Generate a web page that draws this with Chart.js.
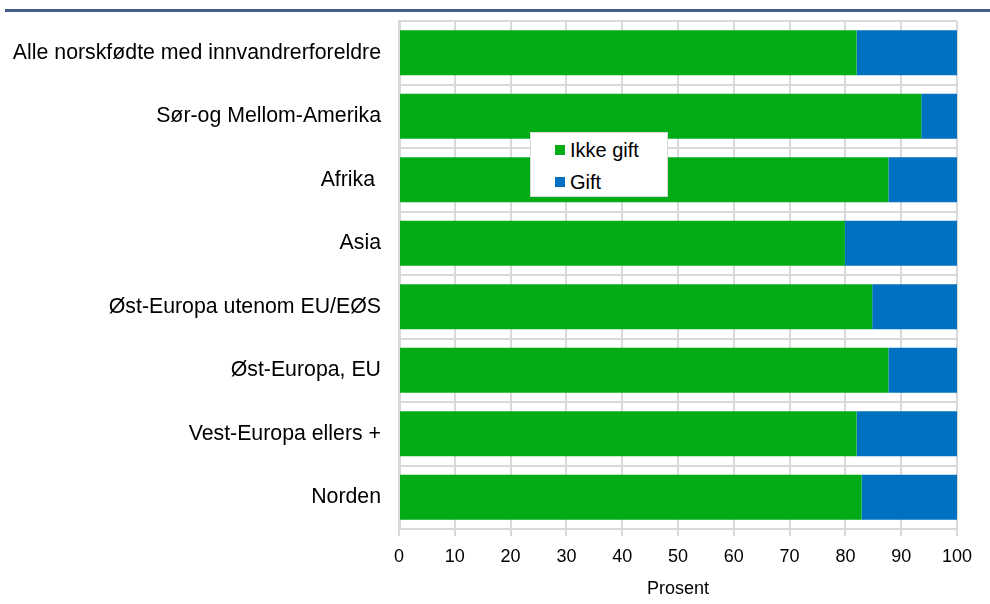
<!DOCTYPE html>
<html lang="no">
<head>
<meta charset="UTF-8">
<title>Gift / ikke gift</title>
<script src="https://cdn.jsdelivr.net/npm/chart.js"></script>
<style>
    body { margin: 0; background: #fff; font-family: 'Liberation Sans', Arial, sans-serif; }
    #wrap { position: relative; width: 990px; height: 604px; }
    #topline { position: absolute; left: 5px; top: 9px; width: 985px; height: 3px; background: #3f5f8a; }
    canvas { position: absolute; left: 0; top: 0; }
    #legend {
        position: absolute; left: 530px; top: 132px; width: 136px; height: 63px;
        background: #fff; border: 1px solid #d9d9d9; font-size: 20px; color: #000;
    }
    #legend div { position: absolute; left: 24px; line-height: 24px; white-space: nowrap; }
    #legend span.box { display: inline-block; width: 10px; height: 10px; margin-right: 5px; vertical-align: 2px; }
</style>
</head>
<body>
<div id="wrap">
    <canvas id="chart" width="990" height="604"></canvas>
    <div id="topline"></div>
    <div id="legend"></div>
</div>
<script>
    const categories = [
        "Alle norskfødte med innvandrerforeldre",
        "Sør-og Mellom-Amerika",
        "Afrika ",
        "Asia",
        "Øst-Europa utenom EU/EØS",
        "Øst-Europa, EU",
        "Vest-Europa ellers +",
        "Norden"
    ];
    const ikkeGift = [82.0, 93.6, 87.7, 79.9, 84.8, 87.7, 82.0, 82.9];
    const gift = [18.0, 6.4, 12.3, 20.1, 15.2, 12.3, 18.0, 17.1];
    const xTicks = [0, 10, 20, 30, 40, 50, 60, 70, 80, 90, 100];

    const green = '#02ac17';
    const blue = '#0070c0';
    const gridColor = '#d9d9d9';
    const family = "'Liberation Sans', Arial, sans-serif";

    const datasets = [
        { label: 'Ikke gift', data: ikkeGift, backgroundColor: green },
        { label: 'Gift', data: gift, backgroundColor: blue }
    ];

    // legend drawn as html box inside the plot
    const legend = document.getElementById('legend');
    datasets.forEach((ds, i) => {
        const row = document.createElement('div');
        row.style.top = (5 + i * 32) + 'px';
        row.innerHTML = `<span class="box" style="background:${ds.backgroundColor}"></span>${ds.label}`;
        legend.appendChild(row);
    });

    new Chart(document.getElementById('chart'), {
        type: 'bar',
        data: { labels: categories, datasets: datasets.map(d => ({ ...d, categoryPercentage: 1, barPercentage: 0.71 })) },
        options: {
            indexAxis: 'y',
            responsive: false,
            animation: false,
            layout: { padding: { left: 5, right: 33, top: 21, bottom: 0 } },
            plugins: { legend: { display: false }, tooltip: { enabled: false } },
            scales: {
                x: {
                    stacked: true,
                    min: 0, max: 100,
                    afterBuildTicks: s => { s.ticks = xTicks.map(v => ({ value: v })); },
                    afterFit: s => { s.height = 75; s.paddingLeft = 0; s.paddingRight = 0; },
                    grid: { color: gridColor, lineWidth: 2, tickLength: 7 },
                    border: { color: gridColor, width: 2 },
                    ticks: { color: '#000', font: { family, size: 18 }, padding: 10, maxRotation: 0 },
                    title: { display: true, text: 'Prosent', color: '#000', font: { family, size: 18 }, padding: { top: 8 } }
                },
                y: {
                    stacked: true,
                    afterFit: s => { s.width = 394; s.paddingTop = 0; s.paddingBottom = 0; },
                    grid: { color: gridColor, lineWidth: 2, drawTicks: false },
                    border: { color: gridColor, width: 3 },
                    ticks: { color: '#000', font: { family, size: 21.3 }, padding: 18 }
                }
            }
        }
    });
</script>
</body>
</html>
